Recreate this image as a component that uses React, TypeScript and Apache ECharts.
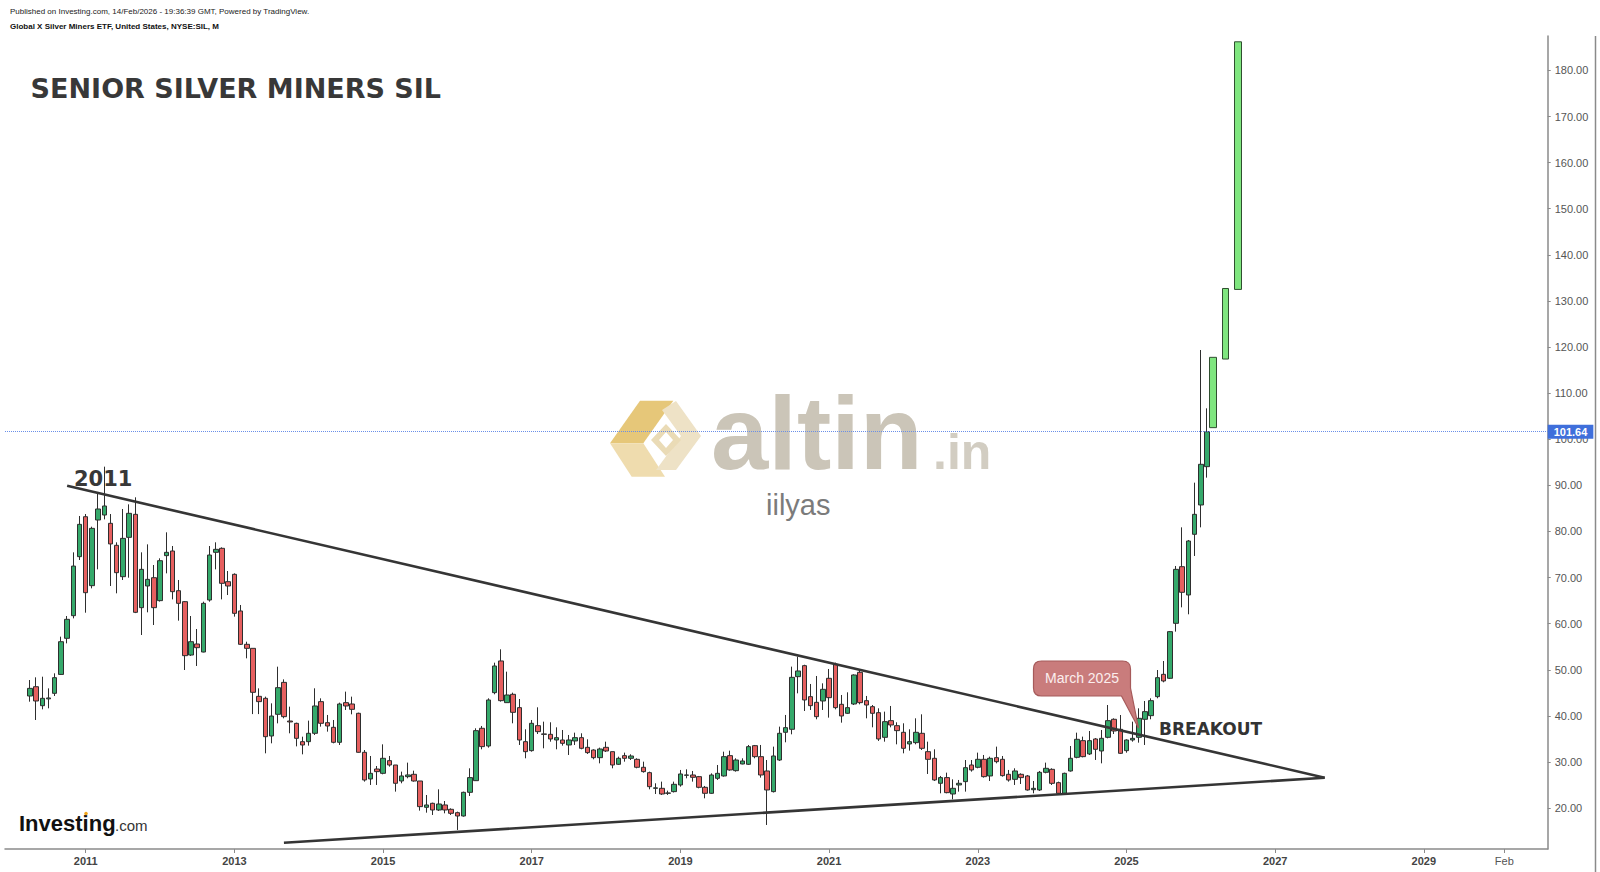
import React, { useEffect, useRef } from 'react';
import * as echarts from 'echarts';

// ---------- DATA ----------
// Monthly candles of SIL, first candle April 2010, last candle February 2026
const firstMonth = '2010-04';
const openPrices = [
  // 2010 Apr-Dec
  44.32, 46.34, 42.22, 43.70, 44.90, 49.00, 56.83, 61.74, 74.54,
  // 2011
  83.21, 68.25, 82.49, 83.57, 81.77, 77.00, 70.20, 78.73, 83.72, 63.48, 68.18, 69.98,
  // 2012
  65.00, 74.76, 75.77, 67.16, 64.78, 53.21, 55.60, 53.86, 65.14, 75.48, 76.35, 69.12,
  // 2013
  70.71, 62.76, 55.53, 54.66, 44.25, 43.82, 35.65, 40.35, 47.28, 38.90, 38.39, 34.42,
  // 2014
  34.42, 36.23, 43.10, 38.54, 37.53, 34.28, 42.88, 42.59, 40.57, 32.11, 26.33, 28.49,
  // 2015
  27.55, 30.30, 29.36, 25.89, 26.83, 27.34, 25.89, 20.18, 21.05, 19.60, 20.69, 19.75,
  // 2016
  19.02, 18.30, 23.43, 25.96, 37.32, 33.48, 45.05, 51.92, 42.88, 44.69, 41.80, 34.42,
  // 2017
  32.47, 37.89, 36.10, 36.01, 34.78, 34.78, 33.70, 34.57, 35.29, 33.19, 32.61, 30.95,
  // 2018
  33.19, 32.25, 29.51, 31.39, 30.81, 30.59, 28.86, 27.70, 24.30, 24.30, 23.22, 23.58,
  // 2019
  25.03, 27.12, 27.19, 26.83, 24.52, 23.22, 26.47, 26.98, 31.39, 28.13, 29.58, 29.51,
  // 2020
  33.55, 31.17, 28.06, 23.58, 30.44, 36.45, 37.10, 48.52, 50.90, 44.18, 42.95, 43.24,
  // 2021
  48.16, 51.19, 42.52, 40.57, 42.59, 49.46, 43.31, 42.01, 40.71, 35.36, 38.98, 37.89,
  // 2022
  36.45, 33.92, 34.21, 36.23, 32.25, 30.81, 25.39, 26.62, 23.07, 25.03, 25.75, 29.36,
  // 2023
  28.86, 30.59, 26.98, 30.95, 30.59, 27.34, 26.25, 27.34, 26.98, 24.00, 23.94, 27.77,
  // 2024
  28.42, 25.53, 23.22, 28.06, 31.02, 34.64, 31.75, 35.00, 32.40, 35.36, 39.27, 37.10,
  // 2025
  32.47, 34.78, 35.36, 39.27, 40.06, 44.18, 49.02, 48.16, 60.08, 72.37, 66.23, 79.39,
  // 2026 Jan-Feb
  85.75, 94.06,
];
const closePrices = [
  45.98, 43.24, 43.82, 43.90, 48.30, 56.10, 60.95, 72.50, 81.55,
  66.73, 80.68, 84.88, 85.53, 77.30, 71.07, 78.51, 83.94, 62.47, 71.79, 69.62, 63.48,
  73.67, 75.48, 66.95, 64.42, 53.07, 56.10, 54.80, 64.42, 74.90, 76.13, 68.76, 68.18,
  62.25, 55.53, 54.66, 45.12, 43.10, 35.50, 39.98, 46.13, 39.84, 38.70, 35.14, 33.70,
  36.23, 42.16, 38.40, 37.82, 34.28, 42.59, 42.16, 41.43, 32.11, 26.11, 27.55, 27.92,
  30.81, 29.36, 25.39, 26.98, 27.20, 25.89, 20.33, 20.69, 19.60, 20.90, 19.60, 18.88,
  18.30, 23.43, 26.62, 36.81, 33.34, 43.46, 50.83, 43.31, 44.54, 40.78, 34.78, 32.25,
  38.40, 36.59, 36.00, 35.00, 35.29, 34.06, 34.78, 35.29, 32.98, 32.04, 30.95, 32.83,
  32.40, 29.36, 30.81, 30.81, 31.31, 28.86, 27.92, 24.66, 24.40, 23.07, 23.30, 25.17,
  27.41, 27.20, 26.69, 24.52, 23.22, 27.19, 27.55, 31.17, 28.28, 30.44, 30.23, 33.34,
  31.17, 27.19, 23.94, 31.31, 36.23, 37.46, 48.37, 49.75, 43.46, 42.23, 39.84, 45.77,
  43.96, 41.80, 39.99, 41.80, 48.88, 42.88, 42.37, 40.57, 35.00, 38.76, 38.04, 36.81,
  32.98, 34.42, 36.45, 32.98, 30.59, 26.11, 26.62, 23.36, 24.30, 25.39, 28.78, 28.28,
  30.59, 26.83, 30.81, 30.08, 27.05, 26.11, 28.06, 26.62, 23.94, 24.30, 27.77, 28.64,
  25.38, 23.22, 27.55, 30.81, 34.93, 31.17, 34.64, 32.76, 35.14, 38.98, 36.73, 31.89,
  34.78, 35.14, 39.48, 40.93, 43.31, 48.30, 47.58, 58.28, 71.79, 66.81, 77.94, 83.72,
  94.57, 101.64,
];
const lowPrices = [
  43.09, 39.12, 41.43, 41.65, 44.32, 48.88, 55.74, 61.16, 73.82,
  62.39, 67.67, 71.79, 82.63, 68.18, 66.59, 69.48, 69.98, 62.30, 57.55, 62.47, 59.72,
  64.80, 70.92, 65.28, 60.66, 49.96, 53.00, 50.83, 53.79, 64.78, 71.79, 65.28, 66.22,
  61.53, 55.38, 52.49, 40.40, 40.40, 31.89, 34.06, 38.39, 39.48, 36.23, 33.40, 31.67,
  33.55, 35.87, 37.68, 36.59, 34.06, 33.70, 41.29, 40.35, 32.04, 25.75, 25.03, 25.03,
  27.34, 29.00, 23.58, 25.39, 26.47, 25.75, 19.46, 19.02, 18.52, 19.39, 18.88, 18.52,
  15.27, 18.16, 22.64, 25.89, 32.76, 33.12, 44.69, 43.10, 42.88, 38.40, 33.70, 30.81,
  32.25, 36.08, 32.98, 34.42, 32.76, 33.55, 31.53, 33.70, 32.76, 31.75, 30.59, 29.72,
  32.18, 28.64, 29.36, 30.08, 30.44, 28.64, 27.70, 24.08, 23.07, 22.86, 22.86, 23.40,
  24.66, 26.47, 25.75, 24.30, 22.13, 23.10, 26.11, 26.83, 28.13, 27.92, 29.51, 29.36,
  30.81, 26.62, 16.35, 23.40, 30.23, 34.28, 36.01, 44.90, 41.07, 41.29, 39.27, 41.29,
  39.63, 41.43, 38.54, 40.42, 42.37, 42.52, 39.48, 37.53, 34.57, 34.42, 37.53, 33.84,
  31.89, 32.47, 33.84, 32.61, 27.41, 25.89, 23.22, 23.22, 21.92, 23.58, 23.58, 27.92,
  28.64, 26.62, 25.89, 29.72, 26.83, 25.75, 25.03, 25.24, 23.80, 23.22, 23.72, 27.55,
  25.02, 23.07, 23.07, 27.92, 30.81, 31.02, 31.53, 30.45, 29.72, 35.14, 36.08, 31.75,
  32.03, 34.42, 34.20, 33.70, 39.27, 43.82, 47.29, 48.01, 58.28, 63.55, 62.04, 74.69,
  80.90, 91.68,
];
const highPrices = [
  47.79, 48.37, 48.51, 45.98, 49.24, 57.19, 61.67, 75.48, 83.36,
  83.79, 81.04, 88.13, 94.06, 83.79, 77.65, 84.88, 85.89, 87.41, 75.48, 77.21, 72.73,
  74.18, 79.82, 76.85, 69.48, 64.92, 61.67, 58.85, 64.78, 76.85, 77.65, 76.56, 71.43,
  70.92, 64.06, 56.10, 54.66, 45.98, 44.18, 42.73, 50.68, 47.93, 42.01, 38.54, 35.50,
  38.98, 45.99, 43.82, 40.21, 39.12, 42.88, 45.27, 44.18, 40.71, 32.61, 31.31, 29.14,
  33.84, 31.31, 29.36, 27.92, 29.87, 28.13, 25.89, 22.85, 21.19, 24.08, 21.55, 19.96,
  19.24, 23.58, 28.64, 37.32, 37.82, 43.82, 51.55, 54.45, 49.60, 45.05, 43.67, 37.10,
  39.12, 41.87, 38.76, 38.62, 37.53, 36.95, 35.87, 36.37, 36.23, 34.93, 32.76, 33.12,
  34.42, 32.25, 31.17, 32.04, 31.68, 30.81, 30.08, 27.92, 25.39, 25.75, 23.80, 25.75,
  28.28, 28.42, 28.06, 26.98, 24.81, 27.55, 29.36, 32.25, 32.47, 30.81, 30.81, 33.70,
  33.70, 33.70, 30.44, 33.34, 37.68, 40.21, 50.69, 52.86, 51.10, 46.93, 48.66, 47.07,
  50.18, 51.55, 44.54, 45.12, 49.02, 49.96, 44.33, 42.37, 41.65, 40.93, 42.16, 38.62,
  38.40, 37.10, 39.48, 40.35, 34.42, 32.76, 26.98, 27.70, 26.25, 26.11, 30.44, 30.44,
  32.04, 31.53, 31.17, 33.34, 31.31, 28.28, 28.64, 27.55, 27.19, 25.89, 28.06, 29.87,
  28.64, 25.75, 27.70, 33.48, 36.37, 35.51, 36.73, 35.20, 36.95, 42.37, 39.48, 40.20,
  34.93, 38.76, 41.65, 43.24, 43.82, 49.96, 51.91, 58.42, 72.52, 80.90, 78.16, 90.59,
  119.36, 106.71,
];

// Author's projected boxes (light green)
const projMonths = ['2026-03', '2026-05', '2026-07'];
const projOpen = [102.52, 117.4, 132.5];
const projClose = [117.77, 132.7, 186.2];

// Trend lines: [month, value]
const upperTrendStart: [string, number] = ['2010-10', 89.9];
const upperTrendEnd: [string, number] = ['2027-09', 26.6];
const lowerTrendStart: [string, number] = ['2013-09', 12.5];
const lowerTrendEnd: [string, number] = ['2027-09', 26.6];

const lastPrice = 101.64;

const xTickMonths = ['2011-01', '2013-01', '2015-01', '2017-01', '2019-01', '2021-01', '2023-01', '2025-01', '2027-01', '2029-01', '2030-02'];
const xTickLabels = ['2011', '2013', '2015', '2017', '2019', '2021', '2023', '2025', '2027', '2029', 'Feb'];
const yTicks = [20, 30, 40, 50, 60, 70, 80, 90, 100, 110, 120, 130, 140, 150, 160, 170, 180];

// ---------- HELPERS ----------
const monthIndex = (s: string) => {
  const [y, m] = s.split('-').map(Number);
  return (y - 2010) * 12 + (m - 1);
};

const FONT = "'Liberation Sans', Arial, sans-serif";
const FONT_B = "'DejaVu Sans', Verdana, sans-serif";

let registered = false;
function registerShapes() {
  if (registered) return;
  registered = true;
  echarts.graphic.registerShape(
    'callout',
    echarts.graphic.extendPath(
      'M8,0 H89 Q97,0 97,8 V27 L105,67 L88,35 H8 Q0,35 0,27 V8 Q0,0 8,0 Z',
      {}
    )
  );
}

export default function App() {
  const ref = useRef<HTMLDivElement>(null);

  useEffect(() => {
    if (!ref.current) return;
    registerShapes();
    const chart = echarts.init(ref.current, undefined, { renderer: 'svg' });

    const start = monthIndex(firstMonth);
    const candleData = openPrices.map((o, i) => [start + i, o, closePrices[i], lowPrices[i], highPrices[i]]);
    const projData = projMonths.map((m, i) => [monthIndex(m), projOpen[i], projClose[i], projOpen[i], projClose[i]]);
    const xTickPos = xTickMonths.map(monthIndex);

    const labelFor = (v: number) => {
      const i = xTickPos.findIndex((p) => Math.abs(p - v) < 0.01);
      if (i < 0) return '';
      return xTickLabels[i] === 'Feb' ? `{n|${xTickLabels[i]}}` : `{y|${xTickLabels[i]}}`;
    };

    const option: any = {
      animation: false,
      backgroundColor: '#ffffff',
      grid: { left: 5, right: 52.3, top: 36, bottom: 23 },
      xAxis: {
        type: 'value',
        min: -1.03,
        max: 248.0,
        splitLine: { show: false },
        axisLine: { onZero: false, lineStyle: { color: '#8a8a8a', width: 1.5 } },
        axisTick: { show: true, customValues: xTickPos, length: 4, lineStyle: { color: '#8a8a8a' } },
        axisLabel: {
          customValues: xTickPos,
          formatter: labelFor,
          margin: 6,
          rich: {
            y: { fontFamily: FONT, fontSize: 11, fontWeight: 'bold', color: '#444' },
            n: { fontFamily: FONT, fontSize: 11, color: '#555' },
          },
        },
      },
      yAxis: {
        type: 'value',
        position: 'right',
        min: 11.14,
        max: 187.46,
        splitLine: { show: false },
        axisLine: { show: true, onZero: false, lineStyle: { color: '#8a8a8a', width: 1.5 } },
        axisTick: { show: true, customValues: yTicks, length: 3, lineStyle: { color: '#8a8a8a' } },
        axisLabel: {
          customValues: yTicks,
          formatter: (v: number) => v.toFixed(2),
          color: '#555',
          fontSize: 11,
          fontFamily: FONT,
          margin: 7,
        },
      },
      series: [
        {
          type: 'candlestick',
          name: 'SIL',
          data: candleData,
          encode: { x: 0, y: [1, 2, 3, 4] },
          barWidth: 5,
          z: 3,
          itemStyle: {
            color: '#35a96b',
            color0: '#e65f5f',
            borderColor: '#2e2e2e',
            borderColor0: '#2e2e2e',
            borderColorDoji: '#2e2e2e',
            borderWidth: 1,
          },
          markLine: {
            silent: true,
            symbol: ['none', 'none'],
            animation: false,
            z: 5,
            label: { show: false },
            lineStyle: { color: '#353535', width: 2.6, type: 'solid' },
            data: [
              [
                { coord: [monthIndex(upperTrendStart[0]), upperTrendStart[1]] },
                { coord: [monthIndex(upperTrendEnd[0]), upperTrendEnd[1]] },
              ],
              [
                { coord: [monthIndex(lowerTrendStart[0]), lowerTrendStart[1]] },
                { coord: [monthIndex(lowerTrendEnd[0]), lowerTrendEnd[1]] },
              ],
              {
                yAxis: lastPrice,
                lineStyle: { color: '#6a8fe8', width: 1, type: 'dotted' },
                label: {
                  show: true,
                  position: 'end',
                  distance: 0,
                  formatter: () => lastPrice.toFixed(2),
                  color: '#ffffff',
                  backgroundColor: '#3f6fdb',
                  padding: [2, 6, 1, 6],
                  fontSize: 11,
                  fontWeight: 'bold',
                  fontFamily: FONT,
                },
              },
            ],
          },
        },
        {
          type: 'candlestick',
          name: 'Projection',
          data: projData,
          encode: { x: 0, y: [1, 2, 3, 4] },
          barWidth: 7,
          z: 3,
          itemStyle: {
            color: '#7fe67f',
            color0: '#7fe67f',
            borderColor: '#2f4f2f',
            borderColor0: '#2f4f2f',
            borderWidth: 1,
          },
        },
      ],
      graphic: [
        // header
        { type: 'text', x: 10, y: 11.5, z: 10, style: { text: 'Published on Investing.com, 14/Feb/2026 - 19:36:39 GMT, Powered by TradingView.', font: `8px ${FONT}`, fill: '#222', verticalAlign: 'middle' } },
        { type: 'text', x: 10, y: 26, z: 10, style: { text: 'Global X Silver Miners ETF, United States, NYSE:SIL, M', font: `bold 8px ${FONT}`, fill: '#111', verticalAlign: 'middle' } },
        // title
        { type: 'text', x: 30.6, y: 88, z: 10, style: { text: 'SENIOR SILVER MINERS SIL', font: `bold 27px ${FONT_B}`, fill: '#383838', verticalAlign: 'middle' } },
        // watermark logo
        { type: 'polygon', z: 0, shape: { points: [[640, 400.7], [673.3, 400.7], [643.3, 443.3], [610, 443.3]] }, style: { fill: '#e6c779' } },
        { type: 'polygon', z: 0, shape: { points: [[610, 443.3], [643.3, 443.3], [665, 476.7], [631.7, 476.7]] }, style: { fill: '#efdcae' } },
        { type: 'polygon', z: 0, shape: { points: [[676, 401], [701, 436], [676, 470], [656, 470], [681, 436], [662, 410]] }, style: { fill: '#eee2c6' } },
        { type: 'polygon', z: 0, shape: { points: [[666, 424], [681, 440], [666, 456], [651, 440]] }, style: { fill: '#eadbb6' } },
        { type: 'polygon', z: 0, shape: { points: [[666, 432], [673, 440], [666, 448], [659, 440]] }, style: { fill: '#ffffff' } },
        { type: 'text', x: 711, y: 433, z: 0, style: { text: 'altin', font: `bold 103px ${FONT}`, fill: '#cbc5b8', verticalAlign: 'middle' } },
        { type: 'text', x: 933, y: 451.5, z: 0, style: { text: '.in', font: `bold 50px ${FONT}`, fill: '#d2cdc2', verticalAlign: 'middle' } },
        { type: 'text', x: 766, y: 505, z: 0, style: { text: 'iilyas', font: `29px ${FONT}`, fill: '#7b7b7b', verticalAlign: 'middle' } },
        // annotations
        { type: 'text', x: 74, y: 479, z: 10, style: { text: '2011', font: `bold 21px ${FONT_B}`, fill: '#383838', verticalAlign: 'middle' } },
        { type: 'text', x: 1159, y: 729, z: 10, style: { text: 'BREAKOUT', font: `bold 17px ${FONT_B}`, fill: '#333', verticalAlign: 'middle' } },
        { type: 'callout', x: 1033.5, y: 661, z: 10, style: { fill: '#c97c7c', stroke: '#a65a5a', lineWidth: 1.2 } },
        { type: 'text', x: 1082, y: 678, z: 11, style: { text: 'March 2025', font: `14px ${FONT}`, fill: '#fbeeee', align: 'center', verticalAlign: 'middle' } },
        // Investing.com logo
        { type: 'text', x: 19, y: 823, z: 10, style: { text: 'Investing', font: `bold 22px ${FONT}`, fill: '#111', verticalAlign: 'middle' } },
        { type: 'text', x: 115, y: 825.5, z: 10, style: { text: '.com', font: `15px ${FONT}`, fill: '#333', verticalAlign: 'middle' } },
        { type: 'circle', z: 11, shape: { cx: 86, cy: 813.5, r: 1.8 }, style: { fill: '#f2a81d' } },
        // right frame
        { type: 'line', z: 10, shape: { x1: 1595.5, y1: 36, x2: 1595.5, y2: 872 }, style: { stroke: '#8a8a8a', lineWidth: 1.5 } },
      ],
    };

    chart.setOption(option);
    return () => chart.dispose();
  }, []);

  return <div ref={ref} style={{ position: 'fixed', left: 0, top: 0, width: 1600, height: 872, background: '#fff' }} />;
}
